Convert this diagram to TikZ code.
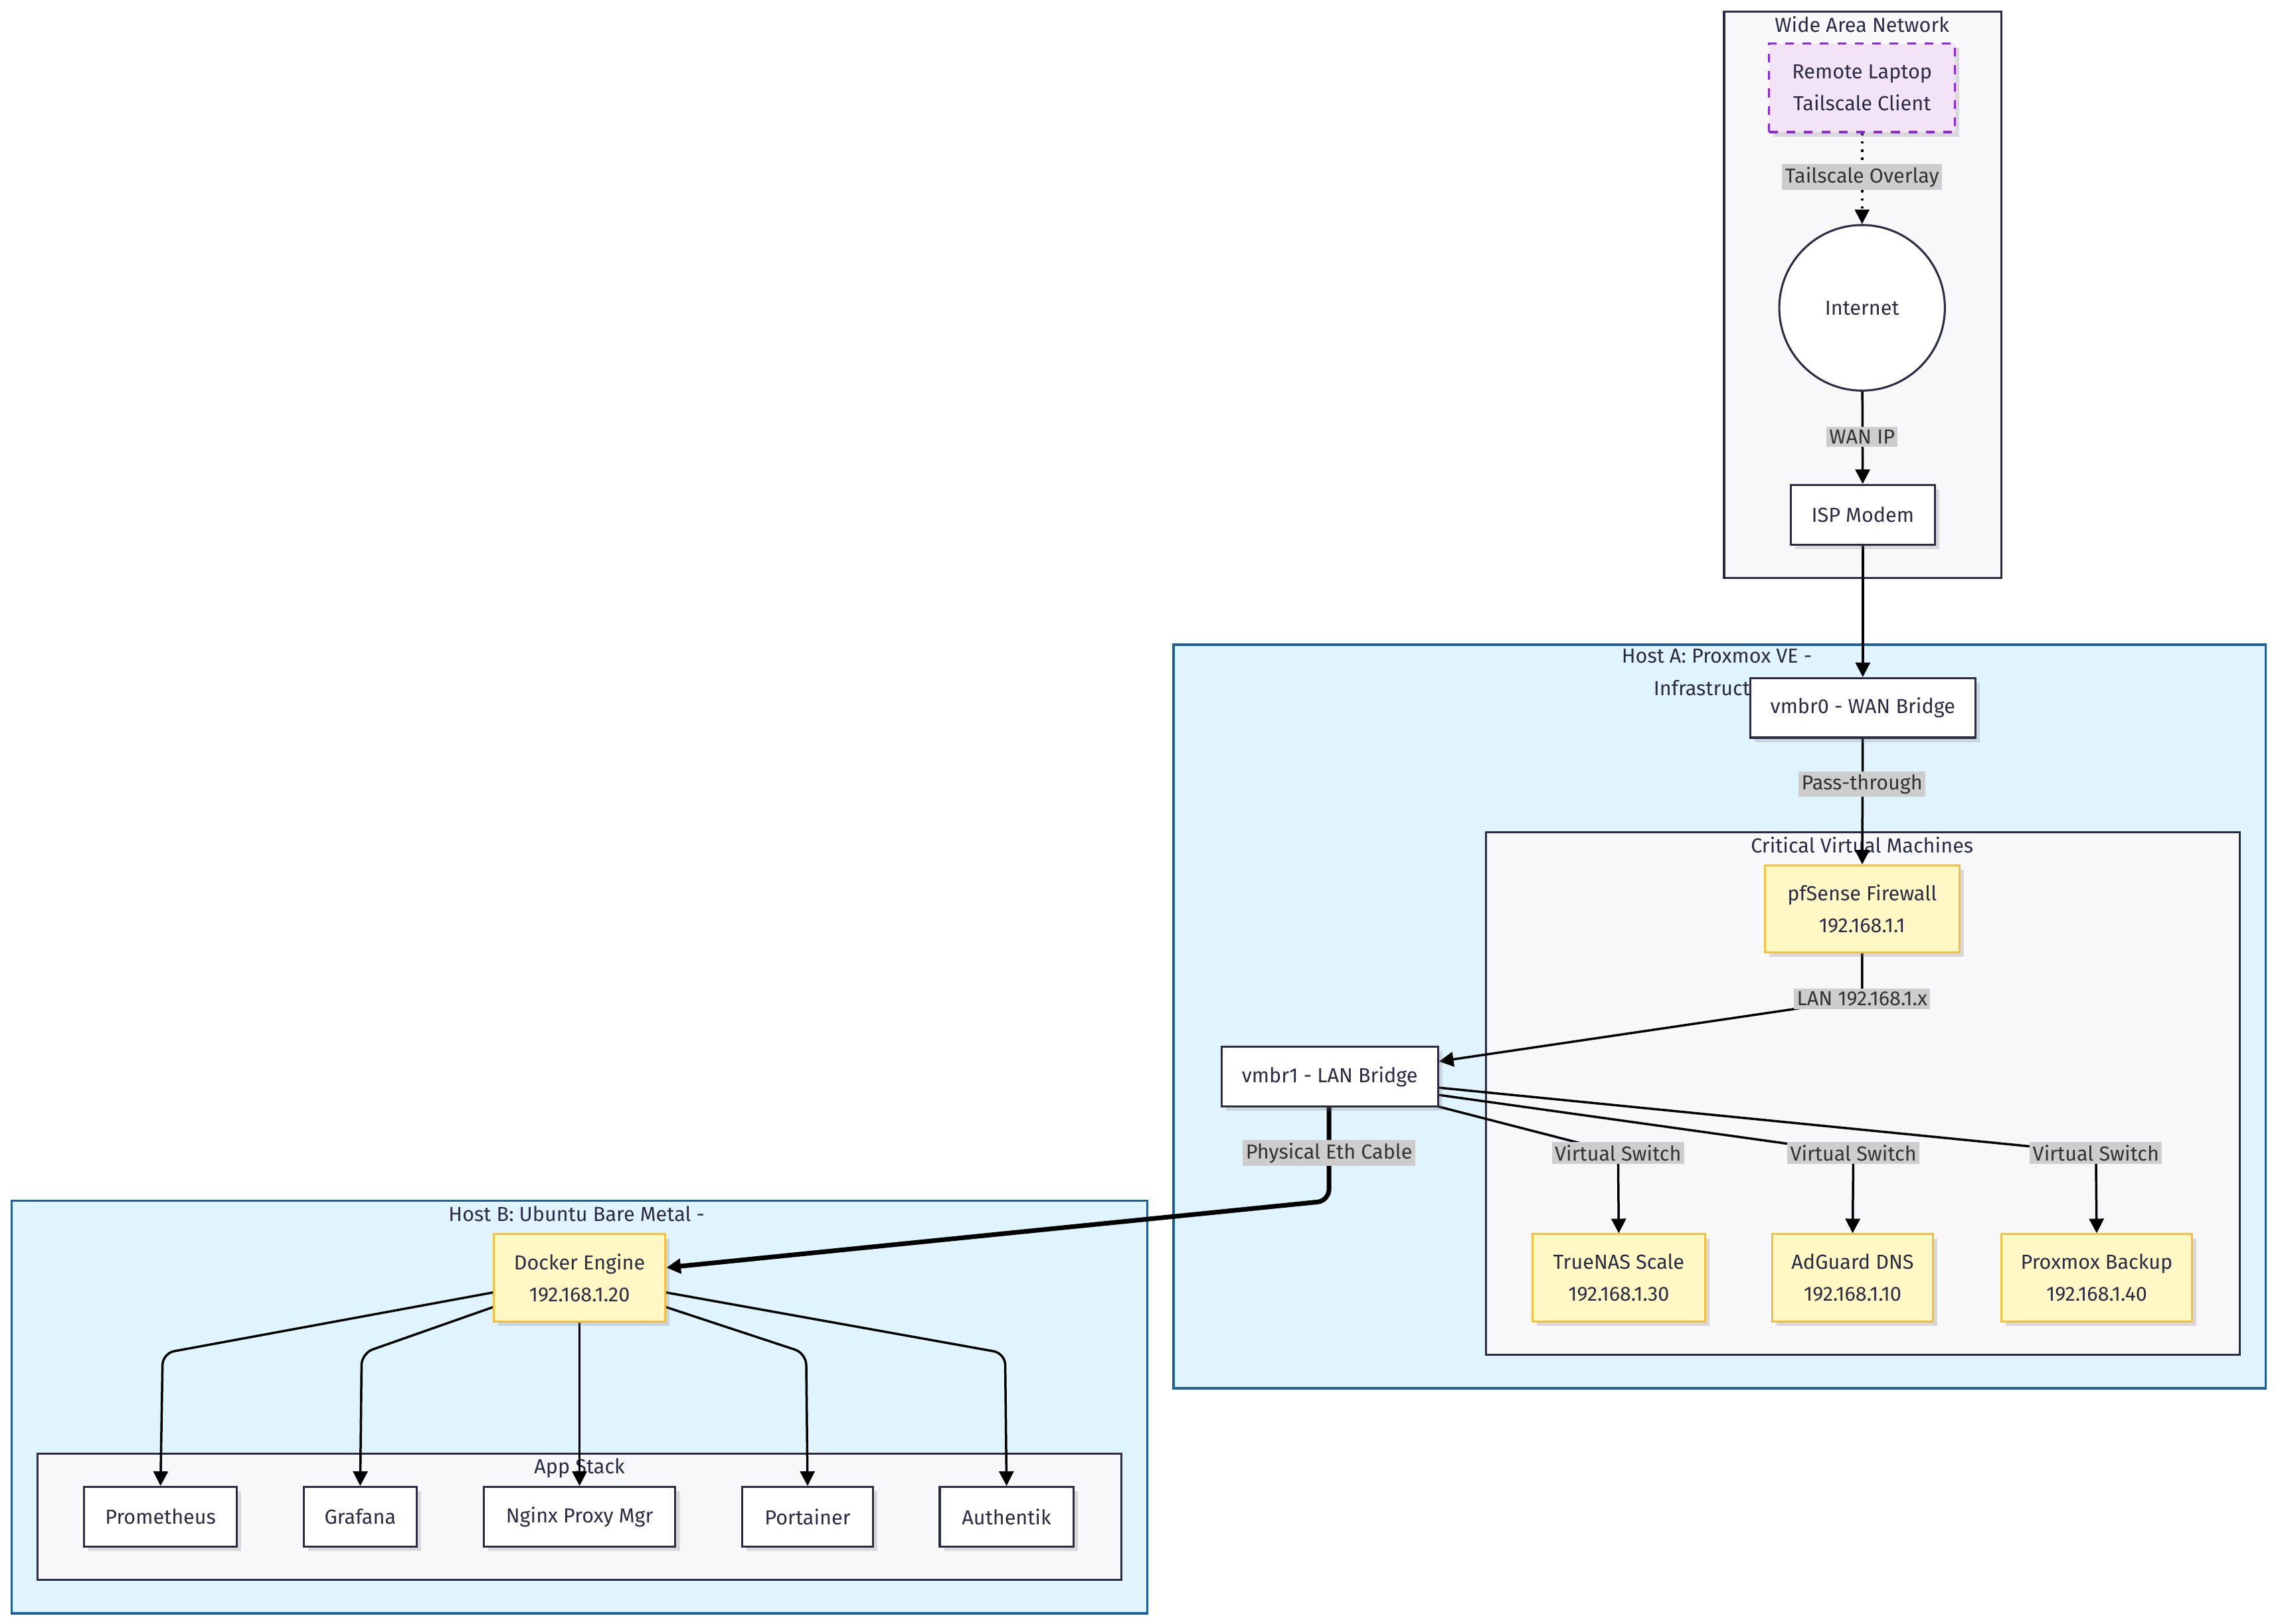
\documentclass[tikz,border=0pt]{standalone}
\usepackage{fontspec}
\setmainfont{Fira Sans}
\usetikzlibrary{arrows.meta,shadows}
\definecolor{cbg}{HTML}{F8F8FA}
\definecolor{cstroke}{HTML}{2B2B45}
\definecolor{hostbg}{HTML}{E0F4FD}
\definecolor{hoststroke}{HTML}{1D5FA0}
\definecolor{ybg}{HTML}{FFF8C4}
\definecolor{ystroke}{HTML}{F5C040}
\definecolor{pbg}{HTML}{F3E3F7}
\definecolor{pstroke}{HTML}{8A2BE2}
\definecolor{lblbg}{HTML}{CDCDCD}
\pgfdeclarelayer{bg}\pgfdeclarelayer{edges}
\pgfsetlayers{bg,edges,main}
\tikzset{
 every node/.style={font=\fontsize{7}{9}\selectfont, text=cstroke},
 box/.style={draw=cstroke, fill=white, line width=0.7pt, align=center, inner sep=0pt,
   drop shadow={shadow xshift=1.5pt, shadow yshift=-1.5pt, opacity=.25, fill=gray}},
 ybox/.style={box, draw=ystroke, fill=ybg},
 cluster/.style={draw=cstroke, fill=cbg, line width=0.7pt},
 host/.style={draw=hoststroke, fill=hostbg, line width=0.8pt},
 lbl/.style={fill=lblbg, inner sep=1pt, text=black!80},
 edge/.style={draw=black, line width=0.8pt, -{Triangle[length=5pt,width=5pt]}},
}
\begin{document}
\begin{tikzpicture}[x=0.5pt,y=-0.5pt]
\useasboundingbox (0,0) rectangle (1567,1118);
% nodes
\node[box, draw=pstroke, fill=pbg, dashed, minimum width=64pt, minimum height=30.5pt] (laptop) at (1282,60.5) {Remote Laptop\\[2pt]Tailscale Client};
\node[circle, draw=cstroke, fill=white, line width=0.7pt, minimum size=57pt] (inet) at (1282,212) {Internet};
\node[box, minimum width=49.5pt, minimum height=20.5pt] (isp) at (1282.5,354.5) {ISP Modem};
\node[box, minimum width=77.5pt, minimum height=20.5pt] (vmbr0) at (1282.5,487.5) {vmbr0 - WAN Bridge};
\node[ybox, minimum width=67pt, minimum height=30pt] (pf) at (1282,626) {pfSense Firewall\\[2pt]192.168.1.1};
\node[box, minimum width=74.5pt, minimum height=20.5pt] (vmbr1) at (915.5,741.5) {vmbr1 - LAN Bridge};
\node[ybox, minimum width=59.5pt, minimum height=30pt] (nas) at (1114.5,880) {TrueNAS Scale\\[2pt]192.168.1.30};
\node[ybox, minimum width=55.5pt, minimum height=30pt] (adg) at (1275.5,880) {AdGuard DNS\\[2pt]192.168.1.10};
\node[ybox, minimum width=65.5pt, minimum height=30pt] (pbs) at (1443.5,880) {Proxmox Backup\\[2pt]192.168.1.40};
\node[ybox, minimum width=59pt, minimum height=30pt] (docker) at (399,880) {Docker Engine\\[2pt]192.168.1.20};
\node[box, minimum width=52.5pt, minimum height=20.5pt] (prom) at (110.5,1044.5) {Prometheus};
\node[box, minimum width=39pt, minimum height=20.5pt] (graf) at (248,1044.5) {Grafana};
\node[box, minimum width=66pt, minimum height=20.5pt] (nginx) at (399,1044.5) {Nginx Proxy Mgr};
\node[box, minimum width=45pt, minimum height=20.5pt] (port) at (556,1044.5) {Portainer};
\node[box, minimum width=46pt, minimum height=20.5pt] (auth) at (693,1044.5) {Authentik};
% clusters
\begin{pgfonlayer}{bg}
\draw[cluster] (1187,8) rectangle (1378,398);
\node at (1282,17) {Wide Area Network};
\draw[host] (808,444) rectangle (1560,956);
\node[align=center] at (1182,463) {Host A: Proxmox VE -\\[2pt]Infrastructure};
\draw[cluster] (1023,573) rectangle (1542,933);
\node at (1282,582) {Critical Virtual Machines};
\draw[host] (8,827) rectangle (790,1111);
\node at (397,836) {Host B: Ubuntu Bare Metal -};
\draw[cluster] (26,1001) rectangle (772,1088);
\node at (399,1011) {App Stack};
\end{pgfonlayer}
% edges
\coordinate (lTS) at (1282,122);
\coordinate (lWAN) at (1282,301);
\coordinate (lPT) at (1282,540);
\coordinate (lLAN) at (1282,688);
\coordinate (lV1) at (1114,794);
\coordinate (lV2) at (1276,794);
\coordinate (lV3) at (1443,794);
\coordinate (lEth) at (915,794);
\begin{pgfonlayer}{edges}
\draw[edge, dotted] (laptop) -- (inet);
\draw[edge] (inet) -- (isp);
\draw[edge] (isp) -- (vmbr0);
\draw[edge] (vmbr0) -- (pf);
\draw[edge] (pf.south) -- (lLAN) -- (vmbr1.east |- 0,731);
\draw[edge] (990,762) -- (lV1) -- (nas.north);
\draw[edge] (990,754) -- (lV2) -- (adg.north);
\draw[edge] (990,749) -- (lV3) -- (pbs.north);
\draw[edge, line width=1.6pt, rounded corners=4pt] (915,762) -- (915,827) -- (docker.east |- 0,873);
\draw[edge, rounded corners=4pt] (340,890) -- (112,932) -- (prom.north);
\draw[edge, rounded corners=4pt] (340,900) -- (249,932) -- (graf.north);
\draw[edge] (docker) -- (nginx);
\draw[edge, rounded corners=4pt] (458,900) -- (555,932) -- (port.north);
\draw[edge, rounded corners=4pt] (458,890) -- (692,932) -- (auth.north);
\end{pgfonlayer}
\node[lbl] at (lTS) {Tailscale Overlay};
\node[lbl] at (lWAN) {WAN IP};
\node[lbl] at (lPT) {Pass-through};
\node[lbl] at (lLAN) {LAN 192.168.1.x};
\node[lbl] at (lV1) {Virtual Switch};
\node[lbl] at (lV2) {Virtual Switch};
\node[lbl] at (lV3) {Virtual Switch};
\node[lbl] at (lEth) {Physical Eth Cable};
\end{tikzpicture}
\end{document}
